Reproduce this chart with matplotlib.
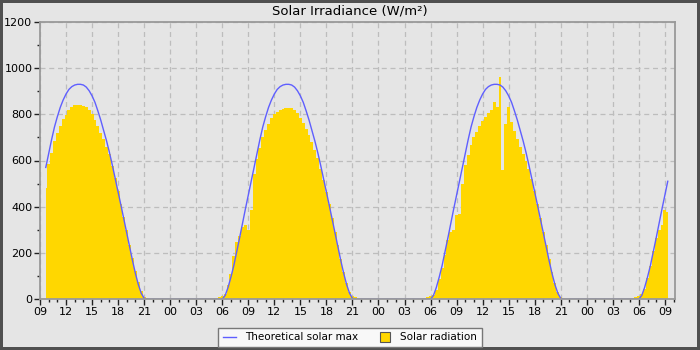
import matplotlib
matplotlib.use('Agg')
import matplotlib.pyplot as plt
import matplotlib.dates as mdates
from matplotlib.lines import Line2D
import pandas as pd

# 20 minute samples, first one 09:40 on day 1, last one 09:20 on day 4
start = '2023-06-12 09:40'

# theoretical clear sky maximum (W/m2)
theo_day1 = [570, 630, 690, 745, 790, 830, 862, 888, 908, 920,
             927, 930, 930, 927, 918, 902, 880, 852, 815, 775,
             730, 685, 635, 580, 522, 465, 405, 345, 285, 225,
             165, 110, 62, 25, 3,
             0, 0, 0, 0, 0, 0, 0, 0]
theo_day2 = [0, 0, 0, 0, 0, 0, 0, 0, 0, 0, 0, 0, 0, 0, 0, 0, 0, 0,
             0, 15, 50, 95, 145, 205, 265, 328, 390, 450,
             510, 570, 630, 690, 745, 790, 830, 862, 888, 908,
             920, 927, 930, 930, 927, 918, 902, 880, 852, 815,
             775, 730, 685, 635, 580, 522, 465, 405, 345, 285,
             225, 165, 110, 62, 25, 3,
             0, 0, 0, 0, 0, 0, 0, 0]
theo_day3 = [0, 0, 0, 0, 0, 0, 0, 0, 0, 0, 0, 0, 0, 0, 0, 0, 0, 0,
             0, 15, 50, 95, 145, 205, 265, 328, 390, 450,
             510, 570, 630, 690, 745, 790, 830, 862, 888, 908,
             920, 927, 930, 930, 927, 918, 902, 880, 852, 815,
             775, 730, 685, 635, 580, 522, 465, 405, 345, 285,
             225, 165, 110, 62, 25, 3,
             0, 0, 0, 0, 0, 0, 0, 0]
theo_day4 = [0, 0, 0, 0, 0, 0, 0, 0, 0, 0, 0, 0, 0, 0, 0, 0, 0, 0,
             0, 15, 50, 95, 145, 205, 265, 328, 390, 450, 510]

# measured solar radiation (W/m2)
rad_day1 = [480, 585, 634, 686, 721, 751, 779, 797, 817, 830,
            839, 840, 840, 838, 830, 819, 800, 776, 750, 721,
            693, 660, 628, 575, 523, 470, 412, 355, 297, 236,
            176, 122, 72, 34, 10, 5,
            0, 0, 0, 0, 0, 0, 0]
rad_day2 = [0, 0, 0, 0, 0, 0, 0, 0, 0, 0, 0, 0, 0, 0, 0, 0, 0,
            10, 14, 20, 60, 110, 185, 245, 275, 310, 320,
            300, 385, 540, 605, 655, 700, 730, 758, 785, 803,
            812, 818, 823, 828, 829, 826, 820, 806, 782, 762,
            738, 712, 680, 645, 610, 565, 515, 465, 410, 352,
            292, 233, 173, 118, 70, 32, 12, 7,
            0, 0, 0, 0, 0, 0, 0]
rad_day3 = [0, 0, 0, 0, 0, 0, 0, 0, 0, 0, 0, 0, 0, 0, 0, 0, 0,
            10, 12, 18, 40, 85, 135, 190, 255, 290, 298,
            365, 370, 500, 580, 625, 665, 700, 725, 750, 770,
            790, 807, 820, 855, 830, 960, 560, 760, 830, 765,
            728, 695, 660, 630, 600, 565, 520, 468, 410, 352,
            292, 232, 172, 118, 68, 30, 10, 6,
            0, 0, 0, 0, 0, 0, 0]
rad_day4 = [0, 0, 0, 0, 0, 0, 0, 0, 0, 0, 0, 0, 0, 0, 0, 0, 0,
            10, 14, 22, 45, 90, 145, 210, 265, 300, 320, 385, 378]

theo = theo_day1 + theo_day2 + theo_day3 + theo_day4
rad = rad_day1 + rad_day2 + rad_day3 + rad_day4
times = pd.date_range(start, periods=len(rad), freq='20min')

bg = '#e5e5e5'
fig = plt.figure(figsize=(7, 3.5), dpi=100, facecolor=bg,
                 edgecolor='#505050', linewidth=4)
ax = fig.add_axes([40 / 700, 1 - 299 / 350, 635 / 700, 277 / 350])
ax.set_facecolor(bg)

ax.fill_between(times, rad, step='mid', color='#ffd700', lw=0, zorder=2)
ax.plot(times, theo, color='#5f5fff', lw=1, zorder=2.2)

ax.set_ylim(0, 1200)
ax.set_xlim(pd.Timestamp('2023-06-12 09:00'), pd.Timestamp('2023-06-15 10:10'))
ax.yaxis.set_major_locator(plt.MultipleLocator(200))
ax.yaxis.set_minor_locator(plt.MultipleLocator(100))
ax.xaxis.set_major_locator(mdates.HourLocator(byhour=range(0, 24, 3)))
ax.xaxis.set_minor_locator(mdates.HourLocator())
ax.xaxis.set_major_formatter(mdates.DateFormatter('%H'))

ax.grid(True, which='major', color='#bdbdbd', ls=(0, (4, 3)), lw=0.9, zorder=1)
ax.set_axisbelow(True)
for s in ax.spines.values():
    s.set_color('#999999')
    s.set_linewidth(1.3)
    s.set_zorder(3)
ax.tick_params(which='major', length=4, width=1, color='#222222',
               labelsize=8, pad=1.5)
ax.tick_params(which='minor', length=2.5, width=1, color='#222222')

fig.text(0.5, 1 - 11 / 350, 'Solar Irradiance (W/m²)', ha='center', va='center',
         fontsize=9.5)

handles = [Line2D([], [], color='#5f5fff', lw=1),
           Line2D([], [], marker='s', ls='none', markersize=6.5,
                  markerfacecolor='#ffd700', markeredgecolor='#555555',
                  markeredgewidth=0.8)]
leg = fig.legend(handles, ['Theoretical solar max', 'Solar radiation'],
                 loc='lower center', bbox_to_anchor=(0.5, 3 / 350), ncol=2,
                 fontsize=7.5, frameon=True, fancybox=False, framealpha=1,
                 handlelength=1.3, handletextpad=0.8, columnspacing=2.0,
                 borderpad=0.45, borderaxespad=0)
leg.get_frame().set_facecolor('#f8f8f8')
leg.get_frame().set_edgecolor('#777777')

plt.savefig('out.png', dpi=100, facecolor=bg, edgecolor='#505050')
